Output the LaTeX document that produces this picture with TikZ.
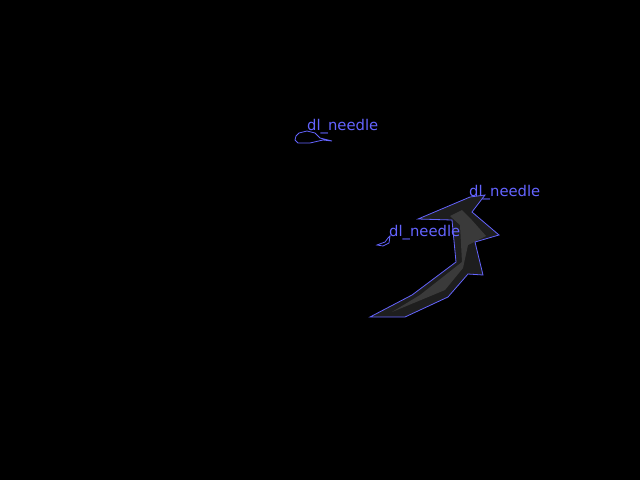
\documentclass[tikz,border=0pt]{standalone}
\usepackage{fontspec}
\setmainfont{DejaVu Sans}
\definecolor{maskblue}{RGB}{100,100,255}
\definecolor{maskgray}{RGB}{30,30,30}
\definecolor{maskcore}{RGB}{66,66,66}
\tikzset{
  outline/.style={draw=maskblue, line width=0.8pt, line join=miter},
  tag/.style={text=maskblue, font=\fontsize{14.8}{15}\selectfont, inner sep=0pt, anchor=base west}
}

\begin{document}
\begin{tikzpicture}[x=1pt,y=-1pt]
  \useasboundingbox (0,0) rectangle (640,480);
  \fill[black] (0,0) rectangle (640,480);

  % large needle
  \fill[maskgray] (370,317) -- (405,317) -- (448,297) -- (468,274) -- (483,275)
    -- (475,242) -- (499,235) -- (472,212) -- (485,195) -- (470,197)
    -- (418,219) -- (452,220) -- (456,262) -- (412,295) -- cycle;
  \fill[maskcore, opacity=0.8] (392,312) -- (445,290) -- (463,268) -- (468,245)
    -- (486,236) -- (470,218) -- (462,210) -- (450,216) -- (460,225) -- (462,262)
    -- (420,295) -- cycle;
  \draw[outline] (370,317) -- (405,317) -- (448,297) -- (468,274) -- (483,275)
    -- (475,242) -- (499,235) -- (472,212) -- (485,195) -- (470,197)
    -- (418,219) -- (452,220) -- (456,262) -- (412,295) -- cycle;

  % small needles
  \draw[outline] (296,136) -- (299,133) -- (307,131) -- (315,133) -- (320,138)
    -- (332,141) -- (323,140) -- (310,143) -- (298,143) -- (295,140) -- cycle;
  \draw[outline] (377,245) -- (385,242) -- (388,238) -- (390,236) -- (389,243)
    -- (383,246) -- cycle;

  \node[tag] (needleA) at (307,130) {dl\_needle};
  \node[tag] (needleB) at (469,196) {dl\_needle};
  \node[tag] (needleC) at (389,236) {dl\_needle};
\end{tikzpicture}
\end{document}
